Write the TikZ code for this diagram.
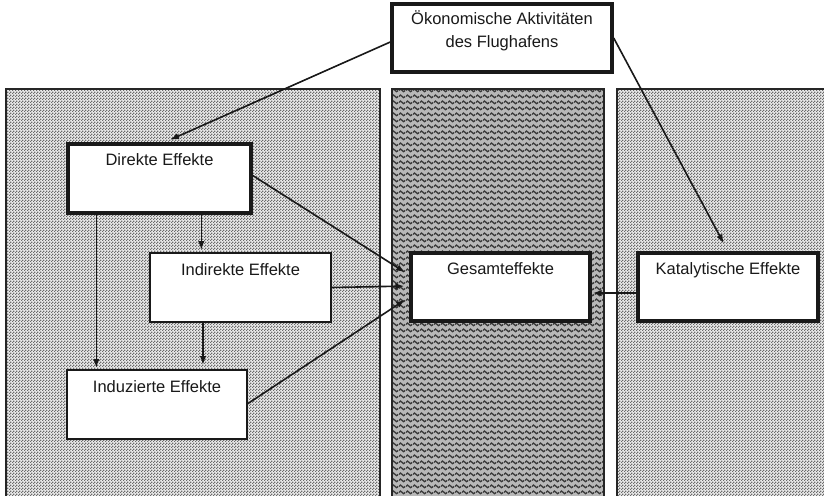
\documentclass[tikz,border=0pt]{standalone}
\usepackage{fontspec}
\setmainfont{Liberation Sans}
\usetikzlibrary{patterns,patterns.meta,arrows.meta,calc}
\tikzdeclarepattern{
  name=mywaves,
  type=uncolored,
  bounding box={(0pt,0pt) and (7pt,5.6pt)},
  tile size={(7pt,5.6pt)},
  code={\draw[line width=1.4pt] (0pt,2.8pt) sin (1.75pt,4.2pt) cos (3.5pt,2.8pt) sin (5.25pt,1.4pt) cos (7pt,2.8pt);}
}
\tikzdeclarepattern{
  name=mychecks,
  type=uncolored,
  bounding box={(0pt,0pt) and (3pt,3pt)},
  tile size={(3pt,3pt)},
  code={\fill (0pt,0pt) rectangle (1.5pt,1.5pt); \fill (1.5pt,1.5pt) rectangle (3pt,3pt);}
}
\begin{document}
\begin{tikzpicture}[x=1pt,y=-1pt,
  panel/.style={draw=black!85, line width=1.3pt},
  dotpanel/.style={panel, pattern=mychecks, pattern color=black!58},
  wavepanel/.style={panel, pattern=mywaves, pattern color=black!78, line width=2pt},
  box/.style={draw=black!90, fill=white, rectangle, line width=2pt, inner sep=0pt},
  thickbox/.style={box, line width=3.4pt},
  arr/.style={-{Latex[length=9pt,width=6.5pt]}, line width=1.6pt, draw=black!90, fill=black!90},
  lbl/.style={font=\fontsize{16.5}{23}\selectfont, text=black!90, inner sep=0pt},
  tl/.style={label={[lbl, anchor=base, label distance=-23pt]north:#1}}
]
\useasboundingbox (0,0) rectangle (824,495);
\fill[white] (0,0) rectangle (824,495);
% panels
\fill[black!8] (6,89) rectangle (380,499);
\path[dotpanel] (6,89) rectangle (380,499);
\fill[black!28] (392,89) rectangle (604,499);
\path[wavepanel] (392,89) rectangle (604,499);
\fill[black!8] (617,89) rectangle (828,499);
\path[dotpanel] (617,89) rectangle (828,499);
% nodes
\node[thickbox, minimum width=220pt, minimum height=68pt,
  label={[lbl, align=center, anchor=center, label distance=-29pt]north:Ökonomische Aktivitäten\\des Flughafens}]
  (top) at (502,38) {};
\node[thickbox, minimum width=183pt, minimum height=69pt, tl={Direkte Effekte}] (dir) at (159.5,178.5) {};
\node[box, minimum width=181pt, minimum height=69pt, tl={Indirekte Effekte}] (indir) at (240.5,287.5) {};
\node[box, minimum width=180pt, minimum height=69pt, tl={Induzierte Effekte}] (ind) at (157,404.5) {};
\node[thickbox, minimum width=179pt, minimum height=68pt, tl={Gesamteffekte}] (gs) at (500.5,287) {};
\node[thickbox, minimum width=180pt, minimum height=68pt, tl={Katalytische Effekte}] (kat) at (728,287) {};
% connectors
\draw[arr, shorten >=6pt] ([yshift=-4pt]top.west) -- ([xshift=5pt]dir.north);
\draw[arr, shorten >=9pt] (top.east) -- (kat.north);
\draw[arr, shorten >=5pt] ([yshift=3pt]dir.east) -- ([yshift=12pt]gs.west);
\draw[arr, shorten >=5pt] (indir.east) -- ([yshift=1pt]gs.west);
\draw[arr, shorten >=5pt] ([yshift=1pt]ind.east) -- ([yshift=-10pt]gs.west);
\draw[arr, shorten >=1pt] ([xshift=30pt]dir.south west) -- ([xshift=30pt]dir.south west |- ind.north);
\draw[arr, shorten >=2pt] ([xshift=135pt]dir.south west) -- ([xshift=135pt]dir.south west |- indir.north);
\draw[arr, shorten >=4pt] ([xshift=54pt]indir.south west) -- ([xshift=54pt]indir.south west |- ind.north);
\draw[arr, shorten >=1pt] ([yshift=-6pt]kat.west) -- ([yshift=-6pt]gs.east);
\end{tikzpicture}
\end{document}
